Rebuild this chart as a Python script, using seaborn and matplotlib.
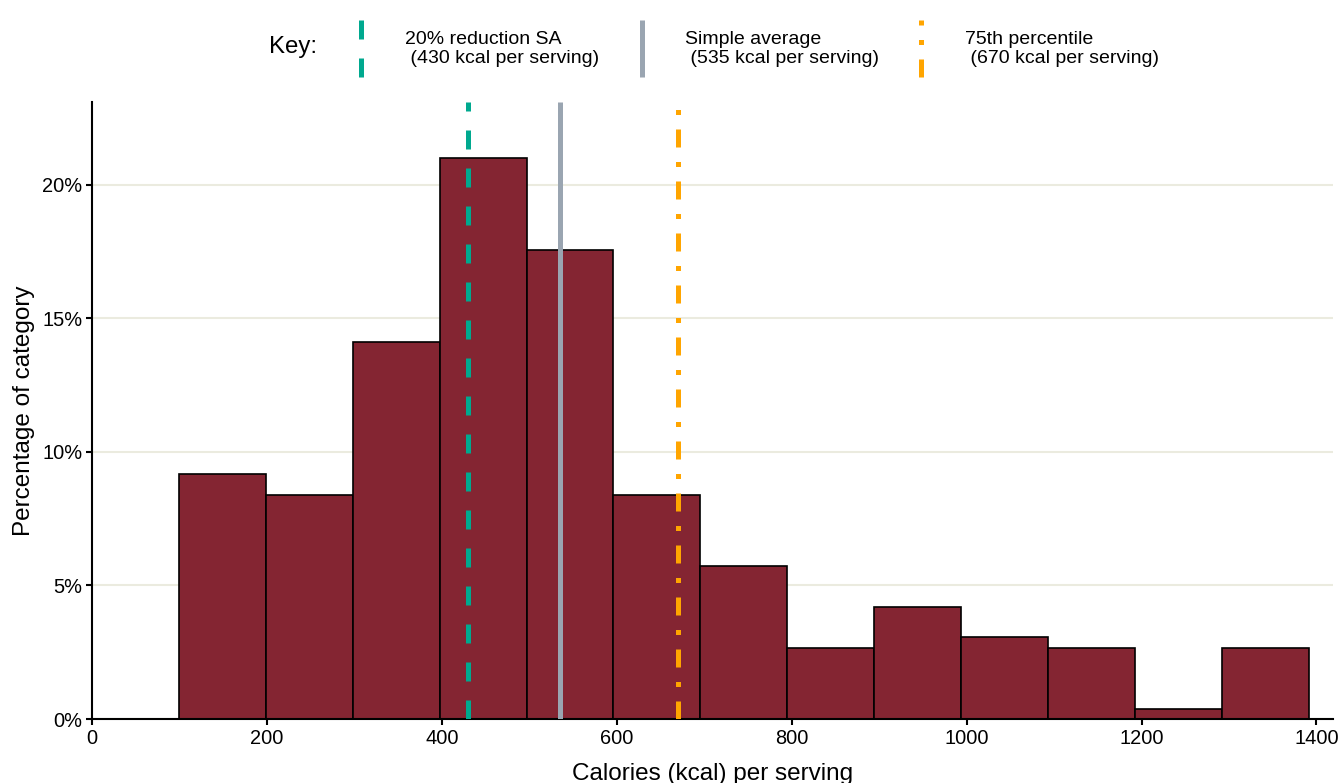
import matplotlib
matplotlib.use("Agg")
import matplotlib.pyplot as plt
import seaborn as sns
import numpy as np
from matplotlib.lines import Line2D
from matplotlib.legend_handler import HandlerBase
from matplotlib.ticker import PercentFormatter

# Histogram bins (kcal per serving) and product counts in each bin
bin_edges = [99.4, 198.8, 298.1, 397.5, 496.8, 596.2, 695.5, 794.9,
             894.2, 993.6, 1092.9, 1192.3, 1291.6, 1391.0]
bin_counts = [24, 22, 37, 55, 46, 22, 15, 7, 11, 8, 7, 1, 7]

# Reference lines
ref_values = [430, 535, 670]
ref_labels = ["20% reduction SA\n (430 kcal per serving)",
              "Simple average\n (535 kcal per serving)",
              "75th percentile\n (670 kcal per serving)"]
ref_colors = ["#00a98f", "#9aa5b1", "#ffa500"]
ref_dashes = [(3.8, 3.8), None, (3.6, 2.9, 1.0, 2.9)]

bin_mids = [(a + b) / 2 for a, b in zip(bin_edges[:-1], bin_edges[1:])]

sns.set_theme(style="white")
plt.rcParams["font.family"] = ["Liberation Sans", "DejaVu Sans"]
plt.rcParams["text.color"] = "black"

fig = plt.figure(figsize=(13.4, 7.83), dpi=100)
ax = fig.add_axes([0.0687, 0.0817, 0.9261, 0.788])

sns.histplot(x=bin_mids, weights=bin_counts, bins=bin_edges, stat="percent",
             color="#842532", alpha=1, edgecolor="black", linewidth=1.2, ax=ax)

handles = []
for v, lab, c, d in zip(ref_values, ref_labels, ref_colors, ref_dashes):
    ln = ax.axvline(v, color=c, lw=3.6, label=lab, zorder=3,
                    solid_capstyle="butt")
    if d is not None:
        ln.set_dashes(d)
        ln.set_dash_capstyle("butt")
    handles.append(ln)

ax.set_xlim(0, 1419)
ax.set_ylim(0, 23.1)
ax.set_xticks([0, 200, 400, 600, 800, 1000, 1200, 1400])
ax.set_yticks([0, 5, 10, 15, 20])
ax.yaxis.set_major_formatter(PercentFormatter(decimals=0))
ax.grid(axis="y", color="#ebebdf", lw=1.5)
ax.set_axisbelow(True)
for s in ["top", "right"]:
    ax.spines[s].set_visible(False)
for s in ["left", "bottom"]:
    ax.spines[s].set_color("black")
    ax.spines[s].set_linewidth(1.5)
ax.tick_params(axis="both", which="both", length=4, width=1.5, color="black",
               labelsize=14.4, labelcolor="black", bottom=True, left=True, pad=3)
ax.set_xlabel("Calories (kcal) per serving", fontsize=17.5, color="black", labelpad=11)
ax.set_ylabel("Percentage of category", fontsize=17.5, color="black", labelpad=5)


class VLineHandler(HandlerBase):
    def create_artists(self, legend, orig_handle, xdescent, ydescent,
                       width, height, fontsize, trans):
        x = width / 2 - xdescent
        ext = height * 1.6
        ln = Line2D([x, x], [-ydescent - ext, height - ydescent + ext])
        ln.update_from(orig_handle)
        ln.set_clip_on(False)
        ln.set_clip_box(None)
        ln.set_transform(trans)
        return [ln]


leg = fig.legend(handles=handles, labels=ref_labels, ncol=3,
                 handler_map={Line2D: VLineHandler()},
                 loc="center left", bbox_to_anchor=(0.2567, 0.9375),
                 borderaxespad=0, frameon=False, fontsize=14,
                 handlelength=1.0, handletextpad=1.72, columnspacing=1.7)
fig.text(0.201, 0.94, "Key:", fontsize=17.3, va="center", ha="left")

fig.savefig("out.png", dpi=100)
